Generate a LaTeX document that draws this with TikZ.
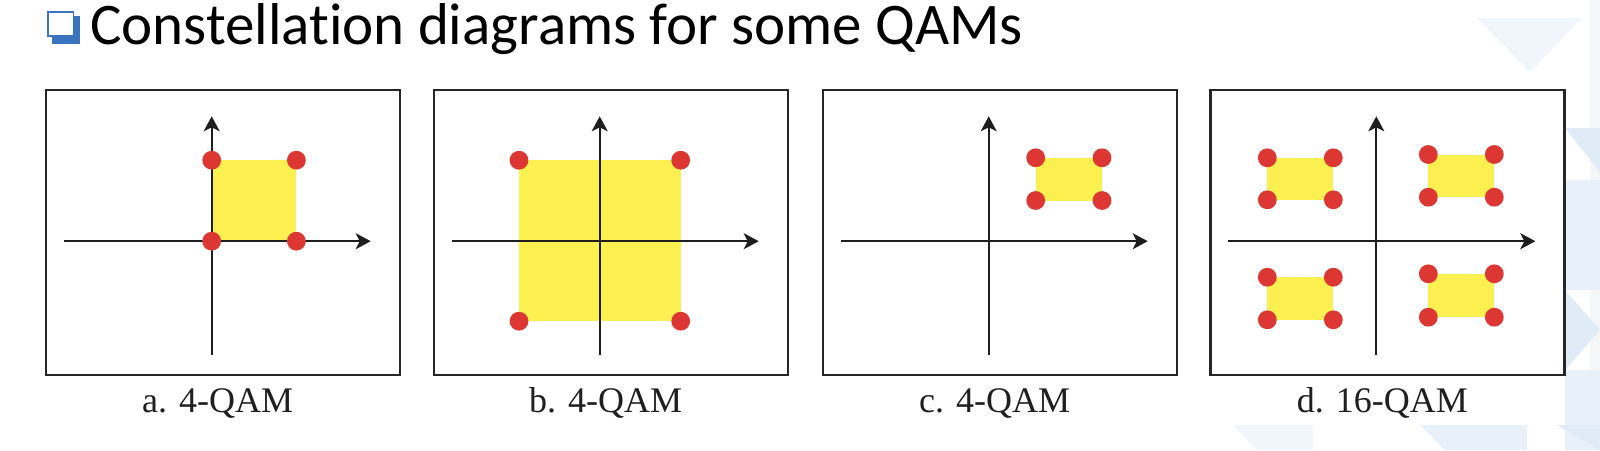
\documentclass[tikz,border=0pt]{standalone}
\usepackage{fontspec}
\setmainfont{Liberation Serif}
\newfontfamily\titlefont[Ligatures={NoCommon}]{Carlito}
\usetikzlibrary{arrows.meta}
\definecolor{dotred}{HTML}{DC3732}
\definecolor{qyellow}{HTML}{FCF050}
\definecolor{axisc}{HTML}{1E1E1E}
\definecolor{boxc}{HTML}{262626}
\definecolor{bulletblue}{HTML}{3A74BF}
\definecolor{bgA}{HTML}{F0F6FC}
\definecolor{bgB}{HTML}{E8F1FA}
\definecolor{bgC}{HTML}{DFECF7}
\definecolor{bgD}{HTML}{F4F6F8}
\newcommand{\qampanel}[3]{%
  \begin{scope}[shift={(#2,88.8)}]
    \node[frame, minimum width=354pt, minimum height=285pt, anchor=north west, inner sep=0pt] (#1box) at (0,0) {};
    \coordinate (#1O) at (167,152.4);
    \coordinate (#1xl) at (19,152.4);
    \coordinate (#1xr) at (326,152.4);
    \coordinate (#1yb) at (167,266);
    \coordinate (#1yt) at (167,27.5);
    \node[caplabel] (#1lab) at (173,323.5) {#3};
  \end{scope}}
\newcommand{\qamaxes}[1]{%
  \draw[axis] (#1xl) -- (#1xr);
  \draw[axis] (#1yb) -- (#1yt);}
\begin{document}
\begin{tikzpicture}[x=1pt,y=-1pt,
  dot/.style={circle,fill=dotred,minimum size=18.8pt,inner sep=0pt},
  axis/.style={draw=axisc,line width=2pt,-{Stealth[length=15pt,width=16pt,inset=4pt]}},
  frame/.style={draw=boxc,line width=2.6pt,fill=white},
  region/.style={fill=qyellow},
  caplabel/.style={font=\fontsize{36}{42}\selectfont, anchor=base, inner sep=0pt, text=black!88}]
\useasboundingbox (0,0) rectangle (1600,450);
\fill[white] (0,0) rectangle (1600,450);
% faint background pattern
\fill[bgA] (1477,18) -- (1582,18) -- (1530,72) -- cycle;
\fill[bgD] (1590,0) rectangle (1600,450);
\fill[bgC] (1565,128) -- (1600,128) -- (1600,172) -- cycle;
\fill[bgB] (1565,180) rectangle (1600,290);
\fill[bgC] (1565,290) -- (1600,330) -- (1565,370) -- cycle;
\fill[bgB] (1565,370) rectangle (1600,450);
\fill[bgA] (1233,425) -- (1313,425) -- (1313,450) -- (1257,450) -- cycle;
\fill[bgB] (1420,425) -- (1527,425) -- (1527,450) -- (1445,450) -- cycle;
\fill[bgC] (1557,425) -- (1600,425) -- (1600,450) -- cycle;
\fill[white] (30,80) rectangle (1565,425);
% title
\fill[bulletblue] (51.7,16) rectangle (80,44.3);
\filldraw[fill=white, draw=bulletblue, line width=1.8pt] (48.2,11.9) rectangle (73.4,35.8);
\node[anchor=base west, inner sep=0pt, font=\titlefont\fontsize{59}{65}\selectfont] (title) at (90,44.3) {Constellation diagrams for some QAMs};
% panels
\qampanel{a}{44.7}{a. 4-QAM}
\qampanel{b}{432.7}{b. 4-QAM}
\qampanel{c}{821.7}{c. 4-QAM}
\qampanel{d}{1209.3}{d. 16-QAM}
% panel a
\begin{scope}[shift={(aO)}]
  \fill[region] (0,0) rectangle (84.7,-81);
\end{scope}
\qamaxes{a}
\begin{scope}[shift={(aO)}]
  \node[dot] (a1) at (0,-81) {};
  \node[dot] (a2) at (84.7,-81) {};
  \node[dot] (a3) at (0,0) {};
  \node[dot] (a4) at (84.7,0) {};
\end{scope}
% panel b
\begin{scope}[shift={(bO)}]
  \fill[region] (-80.7,-81) rectangle (81,80);
\end{scope}
\qamaxes{b}
\begin{scope}[shift={(bO)}]
  \node[dot] (b1) at (-80.7,-81) {};
  \node[dot] (b2) at (81,-81) {};
  \node[dot] (b3) at (-80.7,80) {};
  \node[dot] (b4) at (81,80) {};
\end{scope}
% panel c
\qamaxes{c}
\begin{scope}[shift={(cO)}]
  \fill[region] (47,-83.4) rectangle (113.3,-40.7);
  \node[dot] (c1) at (47,-83.4) {};
  \node[dot] (c2) at (113.3,-83.4) {};
  \node[dot] (c3) at (47,-40.7) {};
  \node[dot] (c4) at (113.3,-40.7) {};
\end{scope}
% panel d
\qamaxes{d}
\begin{scope}[shift={(dO)}]
  \fill[region] (-109,-83.4) rectangle (-43,-41.4);
  \fill[region] (52,-86.7) rectangle (118,-44);
  \fill[region] (-109,36) rectangle (-43,78.6);
  \fill[region] (52,32.6) rectangle (118,76);
  \foreach \px/\py [count=\i] in {-109/-83.4,-43/-83.4,-109/-41.4,-43/-41.4,
                                   52/-86.7,118/-86.7,52/-44,118/-44,
                                   -109/36,-43/36,-109/78.6,-43/78.6,
                                   52/32.6,118/32.6,52/76,118/76}
    \node[dot] (d\i) at (\px,\py) {};
\end{scope}
\end{tikzpicture}
\end{document}
